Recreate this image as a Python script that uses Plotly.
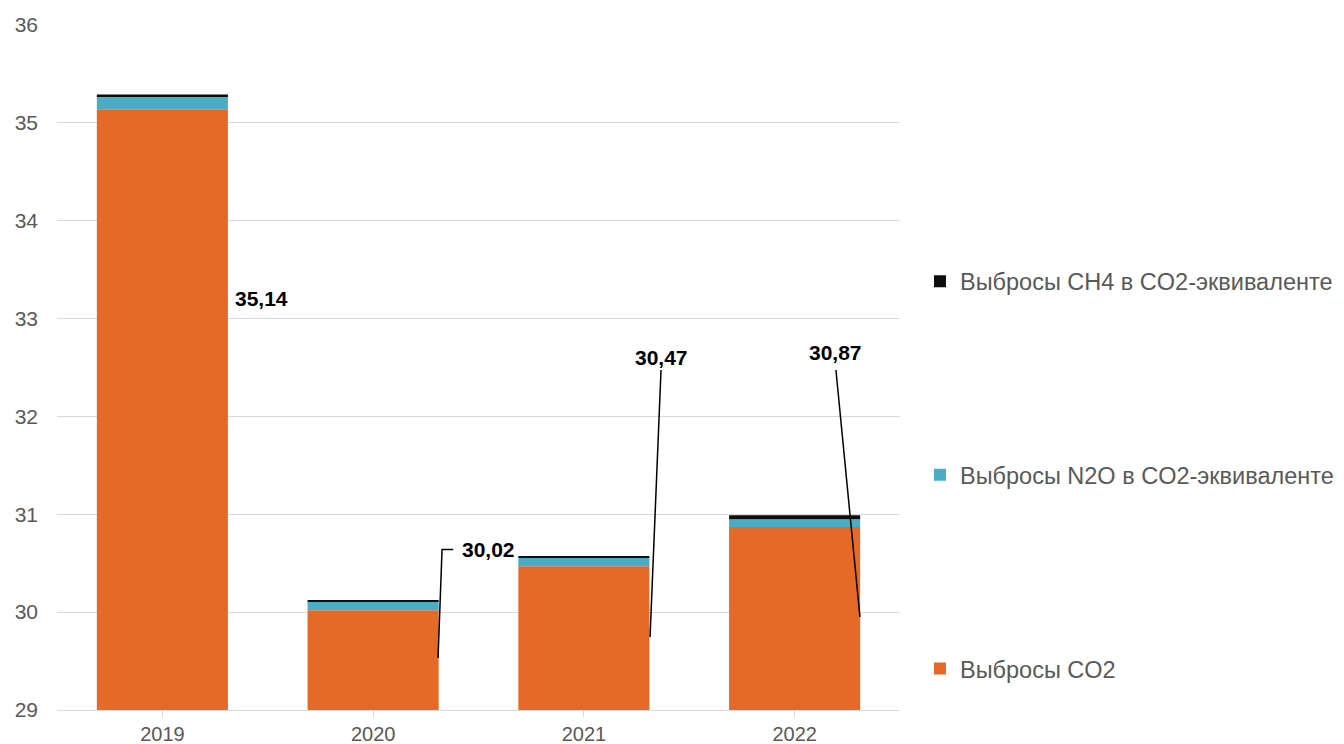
import plotly.graph_objects as go

years = ["2019", "2020", "2021", "2022"]
co2 = [35.14, 30.02, 30.47, 30.87]
n2o = [0.13, 0.09, 0.09, 0.08]
ch4 = [0.02, 0.01, 0.015, 0.04]
label_text = ["35,14", "30,02", "30,47", "30,87"]

names = ["Выбросы CO2", "Выбросы N2O в CO2-эквиваленте", "Выбросы CH4 в CO2-эквиваленте"]
colors = ["#E66A27", "#4BACC6", "#0D0D0D"]
series = [co2, n2o, ch4]
ranks = [3, 2, 1]

# label positions (category index offset, y) and leader-line paths
label_pos = [(0.468, 33.21), (1.547, 30.64), (2.366, 32.60), (3.196, 32.65)]
leaders = [
    None,
    [(1.308, 29.53), (1.327, 30.64), (1.38, 30.64)],
    [(2.314, 29.746), (2.366, 32.475)],
    [(3.31, 29.95), (3.196, 32.475)],
]

fig = go.Figure()
for i, (nm, col, vals) in enumerate(zip(names, colors, series)):
    fig.add_trace(go.Bar(
        x=list(range(len(years))), y=vals, name=nm,
        marker=dict(color=col, line=dict(width=0)),
        base=None if i == 0 else [sum(s[j] for s in series[:i]) for j in range(len(years))],
        legendgroup=f"g{ranks[i]}", legendrank=ranks[i],
    ))

for (lx, ly), txt in zip(label_pos, label_text):
    fig.add_annotation(x=lx, y=ly, text=f"<b>{txt}</b>", showarrow=False,
                       font=dict(family="Liberation Sans, Arial", size=21, color="#000000"))

for path in leaders:
    if not path:
        continue
    d = "M " + " L ".join(f"{px},{py}" for px, py in path)
    fig.add_shape(type="path", path=d, xref="x", yref="y",
                  line=dict(color="#000000", width=1.5))

fig.update_layout(
    template="none",
    width=1344, height=744,
    margin=dict(l=57, r=444, t=25, b=34, autoexpand=False),
    barmode="overlay",
    bargap=0.378,
    plot_bgcolor="white", paper_bgcolor="white",
    font=dict(family="Liberation Sans, Arial", color="#595959"),
    legend=dict(
        x=1.0237, y=0.343, xanchor="left", yanchor="middle",
        traceorder="grouped", tracegroupgap=160,
        font=dict(size=23.5, color="#595959"),
        bgcolor="rgba(0,0,0,0)",
    ),
    showlegend=True,
)
fig.update_xaxes(
    tickmode="array", tickvals=list(range(len(years))), ticktext=years,
    range=[-0.5, 3.5], automargin=False,
    showline=True, linecolor="#D9D9D9", linewidth=1,
    ticks="outside", ticklen=6, tickcolor="#D9D9D9",
    ticklabelstandoff=0,
    showgrid=False, zeroline=False, tickfont=dict(size=20, color="#595959"),
)
fig.update_yaxes(
    range=[29, 36], dtick=1, showgrid=True, gridcolor="#D9D9D9", gridwidth=1,
    zeroline=False, showline=False, ticks="", automargin=False,
    ticklabelstandoff=18,
    tickfont=dict(size=21, color="#595959"),
)
fig.write_html(
    "out.html",
    config={"displayModeBar": False},
    post_script="document.body.style.margin='0';document.body.style.overflow='hidden';",
)
